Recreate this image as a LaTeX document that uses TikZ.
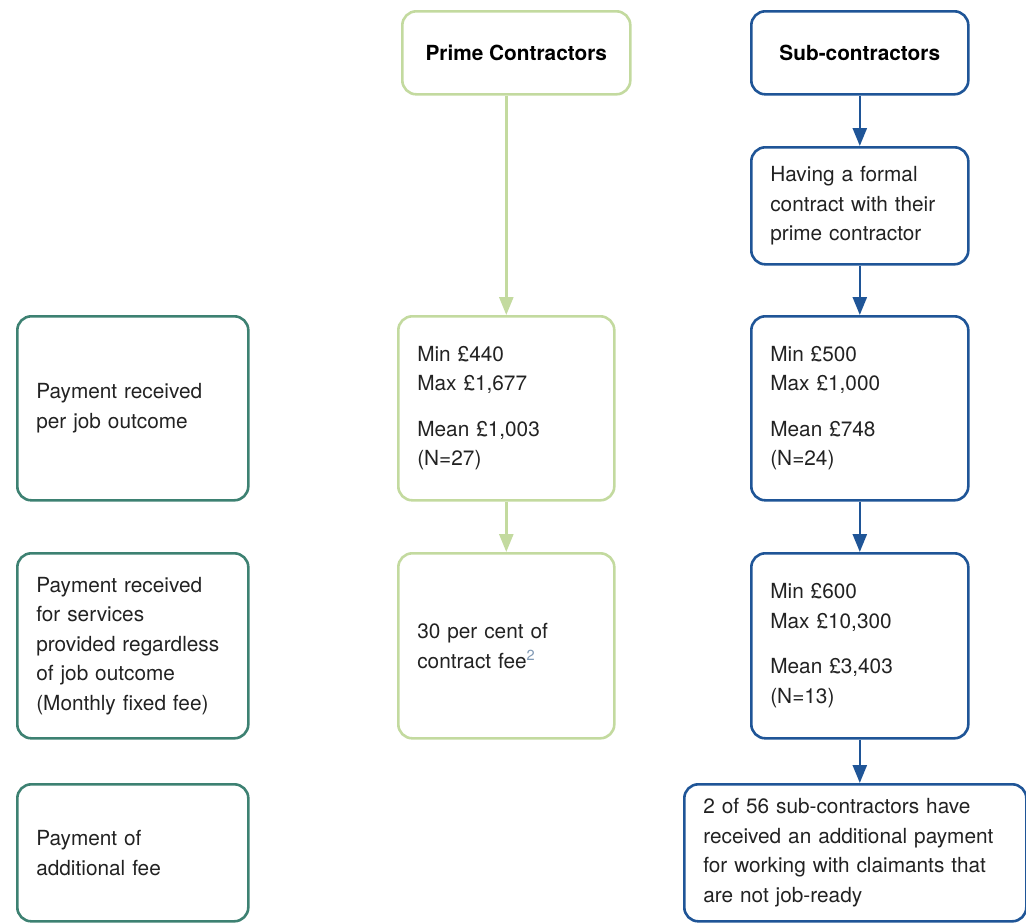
\documentclass[tikz,border=0pt]{standalone}
\usepackage{fontspec}
\setmainfont{TeX Gyre Heros}
\usetikzlibrary{arrows.meta}
\definecolor{primegreen}{HTML}{C3DA9F}
\definecolor{subblue}{HTML}{1F5597}
\definecolor{rowteal}{HTML}{3D8172}
\definecolor{notegray}{HTML}{7F98B4}
\definecolor{textgray}{HTML}{222222}

\tikzset{
  box/.style={draw, line width=2.6pt, rounded corners=14pt, anchor=north west,
    align=left, inner xsep=19pt, text=textgray,
    font=\fontsize{20.8}{29.5}\selectfont},
  rowbox/.style={box, draw=rowteal, minimum width=231pt, text width=193pt},
  primebox/.style={box, draw=primegreen, minimum width=216pt, text width=178pt},
  subbox/.style={box, draw=subblue, minimum width=217pt, text width=179pt},
  headbox/.style={box, align=center, text width=, font=\fontsize{20.8}{24}\selectfont\bfseries, text=black, minimum height=83pt},
  primearrow/.style={draw=primegreen, line width=2.6pt, -{Triangle[length=18pt,width=14pt]}},
  subarrow/.style={draw=subblue, line width=2.6pt, -{Triangle[length=18pt,width=14pt]}},
}

\begin{document}
\begin{tikzpicture}[x=1pt, y=-1pt]
\useasboundingbox (0,0) rectangle (1026,922);

% column heads
\node [headbox, draw=primegreen, minimum width=228pt] (prime) at (401,10) {Prime Contractors};
\node [headbox, draw=subblue, minimum width=217pt] (sub) at (750,10) {Sub-contractors};
\node [subbox, minimum height=117pt] (formal) at (750,146) {Having a formal\\contract with their\\prime contractor};

% row labels
\node [rowbox, minimum height=184pt] (rowjob) at (16,315) {Payment received\\per job outcome};
\node [rowbox, minimum height=185pt] (rowfixed) at (16,552) {Payment received\\for services\\provided regardless\\of job outcome\\(Monthly fixed fee)};
\node [rowbox, minimum height=137pt] (rowextra) at (16,783) {Payment of\\additional fee};

% prime contractors
\node [primebox, minimum height=184pt] (primejob) at (397,315) {Min £440\\Max £1,677\\[16pt]Mean £1,003\\(N=27)};
\node [primebox, minimum height=185pt] (primefixed) at (397,552) {30 per cent of\\contract fee\textsuperscript{\color{notegray}2}};

% sub-contractors
\node [subbox, minimum height=184pt] (subjob) at (750,315) {Min £500\\Max £1,000\\[16pt]Mean £748\\(N=24)};
\node [subbox, minimum height=185pt] (subfixed) at (750,552) {Min £600\\Max £10,300\\[16pt]Mean £3,403\\(N=13)};
\node [box, draw=subblue, minimum width=342pt, text width=304pt, minimum height=137pt] (subextra) at (683,783) {2 of 56 sub-contractors have\\received an additional payment\\for working with claimants that\\are not job-ready};

% connectors
\draw [primearrow] (prime.south -| primejob.north) -- (primejob.north);
\draw [primearrow] (primejob.south) -- (primefixed.north);
\draw [subarrow] (sub.south) -- (formal.north);
\draw [subarrow] (formal.south) -- (subjob.north);
\draw [subarrow] (subjob.south) -- (subfixed.north);
\draw [subarrow] (subfixed.south) -- (subfixed.south |- subextra.north);
\end{tikzpicture}
\end{document}
